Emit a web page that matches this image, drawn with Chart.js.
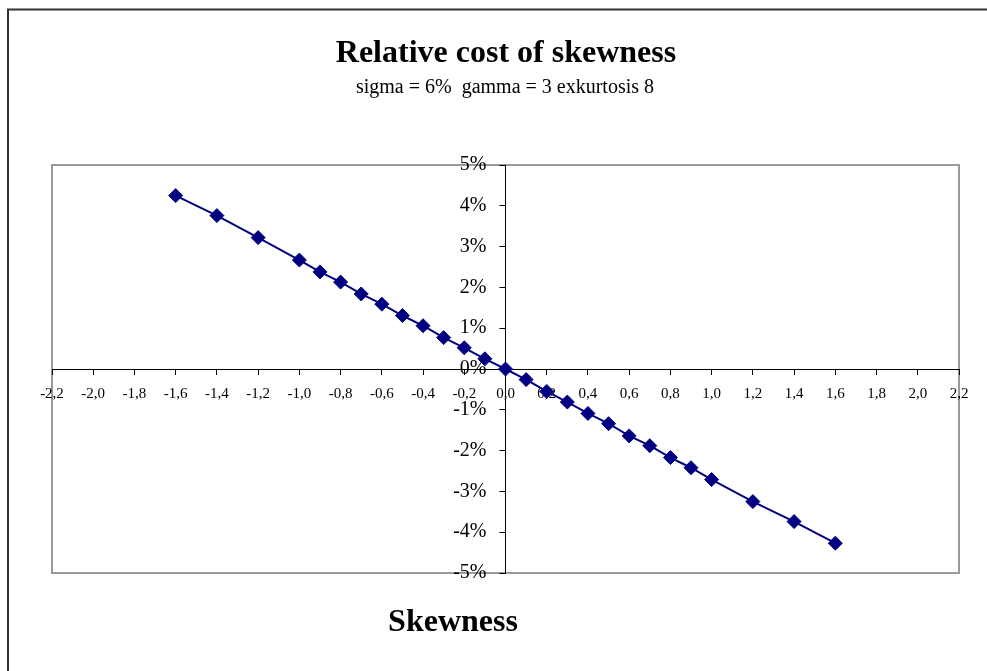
<!DOCTYPE html>
<html>
<head>
<meta charset="utf-8">
<script src="https://cdn.jsdelivr.net/npm/chart.js@4/dist/chart.umd.min.js"></script>
<style>
  html, body { margin: 0; padding: 0; background: #fff; }
  canvas { display: block; }
</style>
</head>
<body>
<canvas id="c" width="987" height="671"></canvas>
<script>
// ---- data ----
const titleText = "Relative cost of skewness";
const subtitleText = "sigma = 6%  gamma = 3 exkurtosis 8";
const xAxisTitle = "Skewness";

const skewness = [-1.6, -1.4, -1.2, -1.0, -0.9, -0.8, -0.7, -0.6, -0.5, -0.4, -0.3, -0.2, -0.1, 0.0,
                  0.1, 0.2, 0.3, 0.4, 0.5, 0.6, 0.7, 0.8, 0.9, 1.0, 1.2, 1.4, 1.6];
const relCost = [0.0425, 0.0376, 0.0322, 0.0267, 0.0238, 0.0213, 0.0184, 0.0159, 0.0131, 0.0106, 0.0077, 0.0052, 0.0025, 0.0,
                 -0.0026, -0.0055, -0.0081, -0.0109, -0.0134, -0.0164, -0.0188, -0.0217, -0.0242, -0.0271, -0.0325, -0.0374, -0.0427];

const xTicks = [-2.2, -2.0, -1.8, -1.6, -1.4, -1.2, -1.0, -0.8, -0.6, -0.4, -0.2, 0.0,
                0.2, 0.4, 0.6, 0.8, 1.0, 1.2, 1.4, 1.6, 1.8, 2.0, 2.2];
const yTicks = [-0.05, -0.04, -0.03, -0.02, -0.01, 0, 0.01, 0.02, 0.03, 0.04, 0.05];

const points = skewness.map((x, i) => ({ x: x, y: relCost[i] }));

const FONT = "'Liberation Serif', 'Times New Roman', serif";

const decorPlugin = {
  id: 'decor',
  afterLayout(chart) {
    // place the y axis at x = 0 (labels to its left)
    const y = chart.scales.y;
    const px = chart.scales.x.getPixelForValue(0);
    y.left = px - 80;
    y.right = px;
  },
  beforeDraw(chart) {
    const ctx = chart.ctx;
    const a = chart.chartArea;
    ctx.save();
    // outer frame
    ctx.strokeStyle = '#333333';
    ctx.lineWidth = 2;
    ctx.beginPath();
    ctx.moveTo(8, 671);
    ctx.lineTo(8, 9.5);
    ctx.lineTo(987, 9.5);
    ctx.stroke();
    // plot area border
    ctx.strokeStyle = '#9a9a9a';
    ctx.lineWidth = 2;
    ctx.strokeRect(a.left, a.top, a.right - a.left, a.bottom - a.top);
    ctx.restore();
  },
  afterDraw(chart) {
    const ctx = chart.ctx;
    ctx.save();
    ctx.fillStyle = '#000';
    ctx.textAlign = 'center';
    ctx.textBaseline = 'alphabetic';
    ctx.font = "bold 32px " + FONT;
    ctx.fillText(titleText, 506, 62);
    ctx.font = "20px " + FONT;
    ctx.fillText(subtitleText, 505, 93);
    ctx.font = "bold 32px " + FONT;
    ctx.fillText(xAxisTitle, 453, 631);
    ctx.restore();
  }
};

new Chart(document.getElementById('c'), {
  type: 'scatter',
  data: {
    datasets: [{
      data: points,
      showLine: true,
      borderColor: '#000080',
      backgroundColor: '#000080',
      borderWidth: 2,
      pointStyle: 'rectRot',
      pointRadius: 7,
      pointHoverRadius: 7,
      pointBorderWidth: 1,
      pointBorderColor: '#000080',
      pointBackgroundColor: '#000080',
      tension: 0
    }]
  },
  options: {
    responsive: false,
    devicePixelRatio: 1,
    animation: false,
    events: [],
    layout: { padding: { left: 52, top: 165, right: 28, bottom: 98 } },
    plugins: {
      legend: { display: false },
      title: { display: false },
      tooltip: { enabled: false }
    },
    scales: {
      x: {
        type: 'linear',
        position: { y: 0 },
        min: -2.2,
        max: 2.2,
        afterBuildTicks: (s) => { s.ticks = xTicks.map(v => ({ value: v })); },
        grid: { drawOnChartArea: false, drawTicks: true, tickLength: 5, color: '#000', lineWidth: 1 },
        border: { display: true, color: '#000', width: 1 },
        ticks: {
          autoSkip: false,
          maxRotation: 0,
          padding: 11,
          color: '#000',
          font: { family: FONT, size: 15 },
          callback: (v) => Number(v).toFixed(1).replace('.', ',')
        }
      },
      y: {
        type: 'linear',
        position: 'left',
        min: -0.05,
        max: 0.05,
        afterFit: (s) => { s.width = 0; },
        afterBuildTicks: (s) => { s.ticks = yTicks.map(v => ({ value: v })); },
        grid: { drawOnChartArea: false, drawTicks: true, tickLength: 6, color: '#000', lineWidth: 1 },
        border: { display: true, color: '#000', width: 1 },
        ticks: {
          autoSkip: false,
          padding: 13,
          color: '#000',
          font: { family: FONT, size: 20 },
          callback: (v) => Math.round(Number(v) * 100) + '%'
        }
      }
    }
  },
  plugins: [decorPlugin]
});
</script>
</body>
</html>
